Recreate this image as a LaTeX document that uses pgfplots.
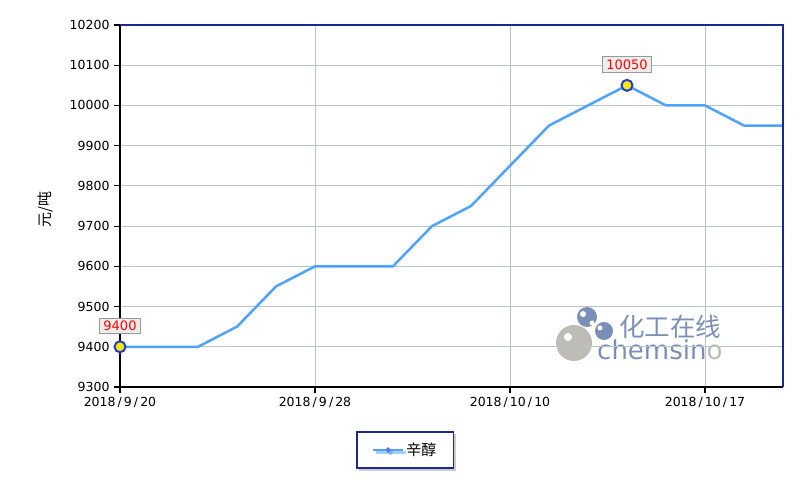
\documentclass[border=0pt]{standalone}
\usepackage{fontspec}
\setmainfont{DejaVu Sans}
\newfontfamily\cjk{Noto Sans CJK SC}
\usepackage{pgfplots}
\pgfplotsset{compat=1.18}
\usetikzlibrary{shadows}
\definecolor{lineblue}{HTML}{4DA3FF}
\definecolor{gridc}{HTML}{B8C6CC}
\definecolor{ringblue}{HTML}{1F3FD0}
\definecolor{navy}{HTML}{1A2A8A}
\definecolor{wmblue}{HTML}{7A8FB8}
\definecolor{wmgray}{HTML}{BDBDB5}
\begin{document}
\begin{tikzpicture}
\useasboundingbox (0,0) rectangle (809pt,485pt);
% watermark (decoration)
\fill[wmgray] (574pt,142pt) circle (18pt);
\fill[white] (568pt,148pt) circle (4pt);
\fill[wmblue] (587pt,168pt) circle (10pt);
\fill[white] (583pt,171pt) circle (3pt);
\fill[white] (592pt,162pt) circle (2.5pt);
\fill[wmblue] (604pt,154pt) circle (9pt);
\fill[white] (600pt,157pt) circle (2.5pt);
\node[anchor=west, text=wmblue, inner sep=0pt] at (619pt,158pt) {\cjk\fontsize{25.5}{26}\selectfont 化工在线};
\node[anchor=base west, inner sep=0pt] at (597pt,125pt) {\fontsize{26}{27}\selectfont\textcolor{wmblue}{chemsin}\textcolor{wmgray}{o}};
\begin{axis}[
  at={(120pt,98pt)}, anchor=south west,
  scale only axis, width=663pt, height=362pt,
  xmin=0, xmax=17, ymin=9300, ymax=10200,
  xtick={0,5,10,15},
  xticklabels={2018\,/\,9\,/\,20,2018\,/\,9\,/\,28,2018\,/\,10\,/\,10,2018\,/\,10\,/\,17},
  ytick={9300,9400,...,10200},
  scaled ticks=false,
  tick align=outside, tick pos=left,
  major tick length=6pt,
  tick style={black, line width=1.2pt},
  grid=major, grid style={gridc, line width=0.9pt},
  axis line style={line width=1.2pt},
  axis x line*=bottom, axis y line*=left,
  ticklabel style={font=\fontsize{12.5}{14}\selectfont},
  /pgf/number format/set thousands separator={},
  /pgf/number format/assume math mode=true,
  yticklabel style={xshift=-1pt},
  xticklabel style={yshift=-1pt},
  ylabel={\cjk 元/吨},
  ylabel style={at={(axis description cs:-0.113,0.49)}, anchor=center, font=\fontsize{15}{16}\selectfont},
  legend style={at={(axis description cs:0.43,-0.174)}, anchor=center, draw=navy, line width=1.4pt,
    drop shadow={shadow xshift=2.5pt, shadow yshift=-2.5pt, fill=black!40},
    font=\cjk\fontsize{15}{16}\selectfont, inner xsep=15pt, inner ysep=9pt},
  legend cell align=left,
  legend image code/.code={
    \draw[lineblue, line width=2.5pt] (-4pt,0pt) -- (26pt,0pt);
    \fill[ringblue!70] (11pt,0pt) circle (1.2pt);
  },
  clip=false,
]
\addplot[lineblue, line width=2.5pt] coordinates {
(0,9400) (1,9400) (2,9400) (3,9450) (4,9550) (5,9600) (6,9600) (7,9600) (8,9700)
(9,9750) (10,9850) (11,9950) (12,10000) (13,10050) (14,10000) (15,10000) (16,9950) (17,9950)
};
\addlegendentry{辛醇}
\draw[navy, line width=1.2pt] (rel axis cs:0,1) -- (rel axis cs:1,1) -- (rel axis cs:1,0);
\addplot[only marks, mark=*, mark size=5.5pt, mark options={fill=yellow!90!orange, draw=ringblue, line width=2pt}, forget plot]
 coordinates {(0,9400) (13,10050)};
\node[draw=gray!80, fill=gray!15, text=red, inner xsep=4pt, inner ysep=3pt, font=\fontsize{13}{14}\selectfont, yshift=21pt] at (axis cs:0,9400) {9400};
\node[draw=gray!80, fill=gray!15, text=red, inner xsep=4pt, inner ysep=3pt, font=\fontsize{13}{14}\selectfont, yshift=21pt] at (axis cs:13,10050) {10050};
\end{axis}
\end{tikzpicture}
\end{document}
